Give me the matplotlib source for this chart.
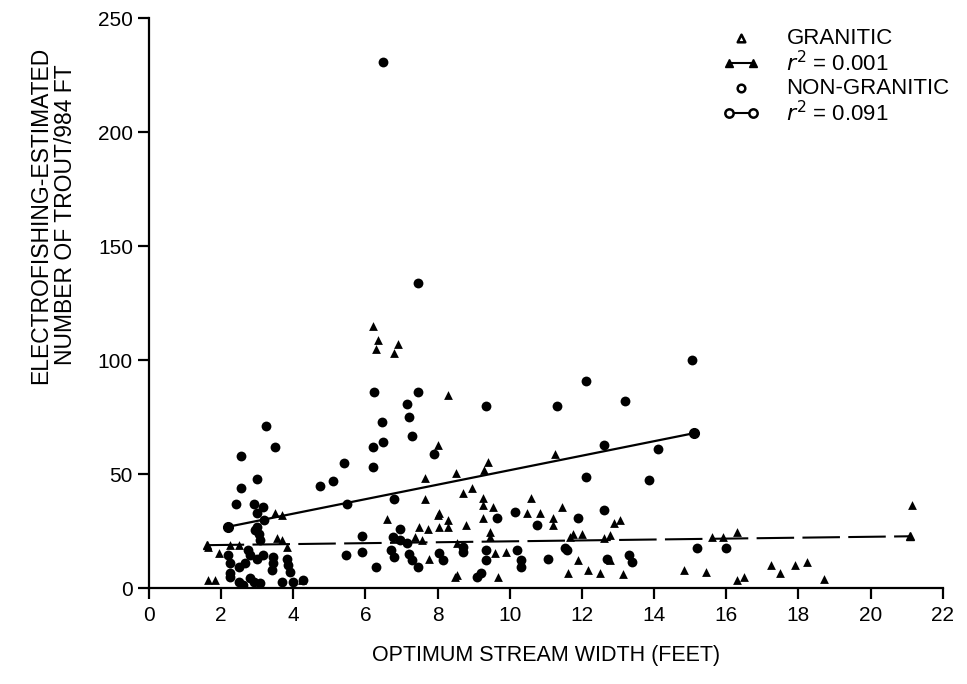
import numpy as np
import matplotlib.pyplot as plt
from matplotlib.lines import Line2D

plt.rcParams['font.family'] = ['Liberation Sans', 'DejaVu Sans']

# Granitic streams (triangles): optimum width (ft), trout per 984 ft
gran_x = [6.2, 6.35, 6.3, 6.9, 6.8, 8.3, 8.0, 9.4, 9.28, 8.5, 7.65, 11.25, 7.65,
          8.7, 8.95, 9.25, 9.25, 9.53, 10.6, 11.44, 8.03, 8.3, 8.28, 8.8, 9.25,
          10.47, 10.83, 11.2, 11.2, 12.9, 13.05, 9.45, 9.45, 11.75, 12.0, 12.77,
          6.6, 7.48, 7.73, 8.0, 8.03, 7.37, 7.56, 7.76, 3.5, 3.7, 3.55, 3.7, 3.82,
          1.63, 1.94, 2.25, 2.5, 8.53, 9.6, 9.9, 11.88, 12.77, 8.53, 9.67, 11.6,
          12.16, 12.5, 13.13, 14.82, 15.45, 15.6, 15.9, 16.3, 21.15, 16.3, 16.5,
          17.25, 17.5, 17.9, 18.25, 18.7, 1.63, 1.83, 8.48, 11.66, 12.6, 4.24]
gran_y = [115, 109, 105, 107, 103, 85, 63, 55.5, 51.7, 50.4, 48.5, 59, 39,
          42, 44, 39.5, 36.4, 35.5, 39.5, 35.5, 32.9, 29.8, 26.8, 27.6, 30.7,
          32.9, 32.9, 30.7, 27.6, 28.5, 29.8, 24.6, 22.4, 24, 24, 23.2,
          30.5, 27, 26, 32, 27, 22.4, 21, 13, 33, 32, 22, 21, 18,
          18, 15.3, 18.9, 18.9, 20, 15.3, 15.8, 12.3, 12.3, 5.7, 4.8, 6.6,
          7.9, 6.6, 6.1, 7.9, 7, 22.4, 22.4, 24.6, 36.4, 3.5, 4.8,
          10, 6.6, 10, 11.4, 3.9, 3.5, 3.5, 4.8, 22.4, 22, 3.5]

# Non-granitic streams (circles)
ngran_x = [6.5, 7.45, 15.05, 12.1, 6.25, 7.45, 13.2, 7.15, 9.35, 11.3, 7.2, 6.45,
           3.25, 7.3, 15.1, 6.5, 6.2, 3.5, 14.1, 7.9, 2.55, 5.4, 6.2, 12.6,
           12.1, 3.0, 13.85, 5.1, 4.75, 2.55, 6.8, 5.5, 2.4, 2.9, 12.6, 10.15,
           9.65, 11.9, 3.15, 3.0, 3.2, 2.2, 3.0, 2.95, 3.05, 3.07, 10.75, 6.95,
           5.9, 6.75, 6.95, 7.15, 8.05, 8.15, 5.9, 5.45, 6.3, 6.7, 6.78, 7.2,
           7.3, 7.45, 9.35, 9.35, 10.2, 10.3, 10.3, 11.05, 11.58, 13.3, 13.4,
           15.2, 16.0, 2.75, 2.8, 3.15, 3.0, 3.43, 3.43, 3.4, 3.82, 3.85, 3.9,
           2.2, 2.25, 2.5, 2.65, 2.25, 2.25, 2.5, 2.8, 2.9, 2.6, 3.07, 3.7, 4.0,
           4.27, 9.2, 9.1, 8.7, 8.7, 12.7, 11.52]
ngran_y = [231, 134, 100, 91, 86, 86, 82, 81, 80, 80, 75, 73,
           71, 67, 68, 64, 62, 62, 61, 59, 58, 55, 53, 62.7,
           49, 48, 47.5, 47, 45, 44, 39, 37, 37, 37, 34.3, 33.3,
           31, 31, 35.5, 33, 29.8, 27, 26.8, 25.4, 24, 21, 27.6, 26,
           22.8, 22.4, 21, 19.7, 15.3, 12.3, 15.8, 14.5, 9.5, 16.7, 13.6, 15,
           12.3, 9.2, 16.7, 12.3, 16.7, 12.3, 9.2, 12.8, 16.7, 14.5, 11.4,
           17.5, 17.5, 16.7, 14.5, 14.5, 13, 13.6, 11, 7.9, 13, 10, 7,
           14.5, 11, 9.2, 11, 6.6, 4.8, 2.6, 4.4, 2.6, 1.3, 2.2, 2.6, 2.6,
           3.5, 6.6, 4.8, 15.8, 18, 13, 17.5]

# Regression lines: (intercept, slope, x start, x end)
gran_fit = (18.58, 0.20, 1.6, 21.1)
ngran_fit = (20.0, 3.18, 2.2, 15.1)

fig = plt.figure(figsize=(9.67, 6.84), dpi=100)
ax = fig.add_axes([0.154, 0.140, 0.821, 0.833])

ax.scatter(gran_x, gran_y, marker='^', s=40, color='black', linewidths=0, zorder=3)
ax.scatter(ngran_x, ngran_y, marker='o', s=50, color='black', linewidths=0, zorder=3)

# fitted lines with end markers
b, m, x0, x1 = gran_fit
xs = np.array([x0, x1])
ax.plot(xs, b + m * xs, color='black', lw=1.5, dashes=(18, 4),
        marker='^', ms=6, markevery=[0, 1], zorder=2)
b, m, x0, x1 = ngran_fit
xs = np.array([x0, x1])
ax.plot(xs, b + m * xs, color='black', lw=1.6,
        marker='o', ms=7, markevery=[0, 1], zorder=2)

ax.set_xlim(0, 22)
ax.set_ylim(0, 250)
ax.set_xticks(np.arange(0, 23, 2))
ax.set_yticks(np.arange(0, 251, 50))
for side in ['top', 'right']:
    ax.spines[side].set_visible(False)
for side in ['left', 'bottom']:
    ax.spines[side].set_linewidth(1.6)
ax.tick_params(axis='both', direction='out', width=1.6, length=8, labelsize=15)
ax.tick_params(axis='x', pad=5)

ax.set_xlabel('OPTIMUM STREAM WIDTH (FEET)', fontsize=15.5, labelpad=14)
ax.set_ylabel('ELECTROFISHING-ESTIMATED\nNUMBER OF TROUT/984 FT', fontsize=16.5,
              linespacing=1.15)
ax.yaxis.set_label_coords(-0.09, 0.655)

# legend with proxy handles
h1 = ax.scatter([], [], marker='^', s=30, facecolors='white', edgecolors='black', linewidths=1.8)
h2 = Line2D([], [], color='black', lw=1.5, marker='^', ms=6, mfc='black', mec='black')
h3 = ax.scatter([], [], marker='o', s=30, facecolors='white', edgecolors='black', linewidths=1.8)
h4 = Line2D([], [], color='black', lw=1.5, marker='o', ms=6, mfc='white', mec='black', mew=1.8)
ax.legend([h1, h2, h3, h4],
          ['GRANITIC', r'$r^2$ = 0.001', 'NON-GRANITIC', r'$r^2$ = 0.091'],
          loc='upper left', bbox_to_anchor=(722 / 967, 1 - 28 / 684),
          bbox_transform=fig.transFigure, borderpad=0, borderaxespad=0,
          frameon=False, fontsize=16, scatterpoints=1, numpoints=2,
          handlelength=1.7, handletextpad=1.2, labelspacing=0.08)

fig.savefig('out.png', dpi=100)
